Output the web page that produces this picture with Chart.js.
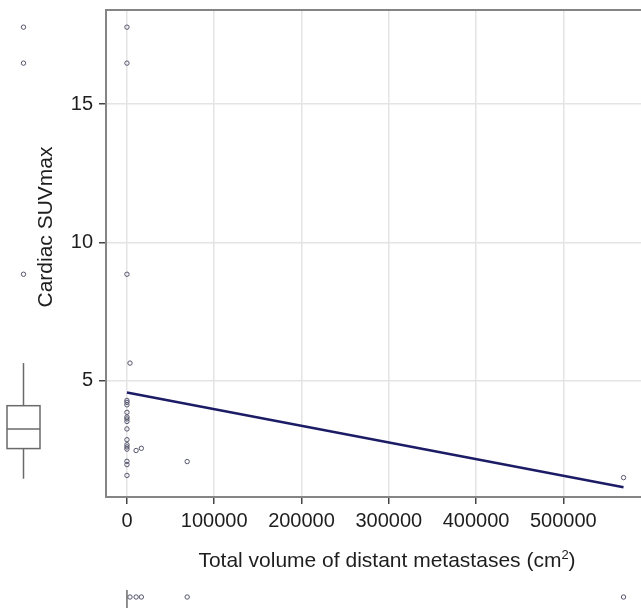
<!DOCTYPE html>
<html>
<head>
<meta charset="utf-8">
<script src="https://cdn.jsdelivr.net/npm/chart.js@4.4.1/dist/chart.umd.min.js"></script>
<style>
  html, body { margin: 0; padding: 0; background: #fff; }
  #wrap { position: relative; width: 641px; height: 609px; }
</style>
</head>
<body>
<div id="wrap"><canvas id="scatterChart"></canvas></div>
<script>
// Cardiac SUVmax vs total volume of distant metastases, with marginal box plots

const volume = [0, 0, 0, 0, 0, 0, 0, 0, 0, 0, 0, 0, 0, 0, 0, 0, 0, 0, 3500, 10500, 16500, 69000, 569000];
const suvMax = [17.78, 16.48, 8.85, 4.29, 4.22, 4.13, 3.86, 3.69, 3.62, 3.53, 3.26, 2.87, 2.69, 2.61, 2.53, 2.09, 1.97, 1.58, 5.64, 2.48, 2.56, 2.08, 1.50];

// fitted regression line end points
const fitX = [0, 569000];
const fitY = [4.58, 1.15];

// box plot stats: lower whisker, q1, median, q3, upper whisker
const suvBox = [1.46, 2.55, 3.26, 4.10, 5.64];
const volumeBox = [0, 0, 0, 0, 0];

const xTicks = [0, 100000, 200000, 300000, 400000, 500000];
const yTicks = [5, 10, 15];

const FONT = '"Liberation Sans", Arial, Helvetica, sans-serif';
const frameColor = '#858585';
const markColor = '#55556c';

function circle(ctx, px, py) {
    ctx.beginPath();
    ctx.arc(px, py, 2.2, 0, Math.PI * 2);
    ctx.stroke();
}

function seg(ctx, x1, y1, x2, y2) {
    ctx.beginPath();
    ctx.moveTo(x1, y1);
    ctx.lineTo(x2, y2);
    ctx.stroke();
}

const marginPlots = {
    id: 'marginPlots',
    afterDraw(chart) {
        const { ctx, chartArea: a, scales: { x, y } } = chart;
        ctx.save();

        // top frame line
        ctx.strokeStyle = frameColor;
        ctx.lineWidth = 2;
        seg(ctx, a.left - 1, a.top, chart.width, a.top);

        // left box plot of SUVmax
        const bx = 23.5, bw = 33;
        const [lo, q1, med, q3, hi] = suvBox.map(v => y.getPixelForValue(v));
        ctx.strokeStyle = '#6a6a6a';
        ctx.lineWidth = 1.5;
        ctx.strokeRect(bx - bw / 2, q3, bw, q1 - q3);
        seg(ctx, bx - bw / 2, med, bx + bw / 2, med);
        seg(ctx, bx, hi, bx, q3);
        seg(ctx, bx, q1, bx, lo);

        ctx.strokeStyle = markColor;
        ctx.lineWidth = 1;
        suvMax.filter(v => v > suvBox[4] || v < suvBox[0])
            .forEach(v => circle(ctx, bx, y.getPixelForValue(v)));

        // bottom box plot of volume (collapsed at zero)
        const by = 599;
        const vmed = x.getPixelForValue(volumeBox[2]);
        ctx.strokeStyle = '#6a6a6a';
        ctx.lineWidth = 1.5;
        seg(ctx, vmed, by - 9, vmed, by + 9);
        ctx.strokeStyle = markColor;
        ctx.lineWidth = 1;
        volume.filter(v => v > volumeBox[4] || v < volumeBox[0])
            .forEach(v => circle(ctx, x.getPixelForValue(v), by - 2));

        // axis titles
        ctx.fillStyle = '#1e1e1e';
        ctx.font = '21px ' + FONT;
        ctx.textAlign = 'center';
        ctx.textBaseline = 'alphabetic';
        ctx.save();
        ctx.translate(a.left - 54, a.top + 217);
        ctx.rotate(-Math.PI / 2);
        ctx.fillText('Cardiac SUVmax', 0, 0);
        ctx.restore();

        const main = 'Total volume of distant metastases (cm';
        ctx.font = '21px ' + FONT;
        const w1 = ctx.measureText(main).width;
        const w3 = ctx.measureText(')').width;
        ctx.font = '13px ' + FONT;
        const w2 = ctx.measureText('2').width;
        const tx = a.left + 281 - (w1 + w2 + w3) / 2;
        const ty = 567;
        ctx.textAlign = 'left';
        ctx.font = '21px ' + FONT;
        ctx.fillText(main, tx, ty);
        ctx.font = '13px ' + FONT;
        ctx.fillText('2', tx + w1, ty - 8);
        ctx.font = '21px ' + FONT;
        ctx.fillText(')', tx + w1 + w2, ty);

        ctx.restore();
    }
};

document.addEventListener('DOMContentLoaded', () => {
    const ctx = document.getElementById('scatterChart').getContext('2d');

    new Chart(ctx, {
        type: 'scatter',
        data: {
            datasets: [{
                label: 'Cardiac SUVmax',
                data: volume.map((v, i) => ({ x: v, y: suvMax[i] })),
                pointRadius: 2.2,
                pointHoverRadius: 2.2,
                borderWidth: 1,
                borderColor: markColor,
                backgroundColor: 'rgba(0,0,0,0)',
                order: 2
            }, {
                type: 'line',
                label: 'Fitted values',
                data: fitX.map((v, i) => ({ x: v, y: fitY[i] })),
                borderColor: '#1c1c66',
                borderWidth: 2.5,
                pointRadius: 0,
                fill: false,
                order: 1
            }]
        },
        options: {
            responsive: true,
            maintainAspectRatio: false,
            animation: false,
            layout: {
                autoPadding: false,
                padding: { left: 45, top: 10, right: 0, bottom: 0 }
            },
            scales: {
                x: {
                    type: 'linear',
                    min: -24000,
                    max: 589000,
                    afterBuildTicks: s => { s.ticks = xTicks.map(v => ({ value: v })); },
                    afterFit: s => { s.height = 112; s.paddingLeft = 0; s.paddingRight = 0; },
                    grid: {
                        color: '#e4e4e4',
                        lineWidth: 1.5,
                        tickColor: '#444',
                        tickLength: 7,
                        tickWidth: 1.5
                    },
                    border: { display: true, color: frameColor, width: 2 },
                    ticks: {
                        color: '#1e1e1e',
                        font: { family: FONT, size: 20 },
                        padding: 5,
                        maxRotation: 0,
                        autoSkip: false,
                        callback: value => String(value)
                    }
                },
                y: {
                    min: 0.8,
                    max: 18.4,
                    afterBuildTicks: s => { s.ticks = yTicks.map(v => ({ value: v })); },
                    afterFit: s => { s.width = 61; s.paddingTop = 0; s.paddingBottom = 0; },
                    grid: {
                        color: '#e4e4e4',
                        lineWidth: 1.5,
                        tickColor: '#444',
                        tickLength: 7,
                        tickWidth: 1.5
                    },
                    border: { display: true, color: frameColor, width: 2 },
                    ticks: {
                        color: '#1e1e1e',
                        font: { family: FONT, size: 20 },
                        padding: 6
                    }
                }
            },
            plugins: {
                legend: { display: false },
                tooltip: { enabled: false }
            }
        },
        plugins: [marginPlots]
    });
});
</script>
</body>
</html>
